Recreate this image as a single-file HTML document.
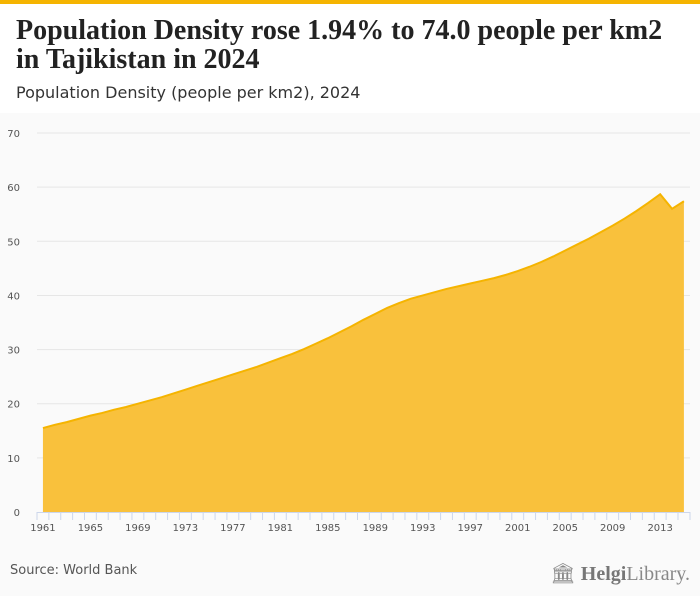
<!DOCTYPE html>
<html><head><meta charset="utf-8"><style>
body{margin:0;width:700px;height:596px;background:#fafafa;font-family:"Liberation Sans",sans-serif;position:relative;overflow:hidden}
#topbar{position:absolute;left:0;top:0;width:700px;height:4px;background:#f5b400}
#header{position:absolute;left:0;top:4px;width:700px;height:109px;background:#fff}
h1{position:absolute;left:16px;top:12px;margin:0;font-family:"Liberation Serif",serif;font-size:28px;line-height:29px;font-weight:bold;color:#222;white-space:nowrap}
#sub{position:absolute;left:16px;top:79px;font-family:"DejaVu Sans",sans-serif;font-size:16px;color:#333}
#src{position:absolute;left:10px;top:563px;font-family:"DejaVu Sans",sans-serif;font-size:13px;color:#555}
#logo{position:absolute;right:10px;top:561px;font-family:"Liberation Serif",serif;font-size:20px;color:#888}
svg{position:absolute;left:0;top:0}
</style></head><body>
<div id="topbar"></div>
<div id="header">
<h1>Population Density rose 1.94% to 74.0 people per km2<br>in Tajikistan in 2024</h1>
<div id="sub">Population Density (people per km2), 2024</div>
</div>
<svg id="chart" width="700" height="596"></svg>
<div id="src">Source: World Bank</div>
<div id="logo">&#x1F3DB; <b style="color:#777">Helgi</b>Library.</div>
<script>
const years=[1961,1962,1963,1964,1965,1966,1967,1968,1969,1970,1971,1972,1973,1974,1975,1976,1977,1978,1979,1980,1981,1982,1983,1984,1985,1986,1987,1988,1989,1990,1991,1992,1993,1994,1995,1996,1997,1998,1999,2000,2001,2002,2003,2004,2005,2006,2007,2008,2009,2010,2011,2012,2013,2014,2015];
const density=[15.5,16.1,16.6,17.2,17.8,18.3,18.9,19.4,20.0,20.6,21.2,21.9,22.6,23.3,24.0,24.7,25.4,26.1,26.8,27.6,28.4,29.2,30.1,31.1,32.1,33.2,34.3,35.5,36.6,37.7,38.6,39.4,40.0,40.6,41.2,41.7,42.2,42.7,43.2,43.8,44.5,45.3,46.2,47.2,48.3,49.4,50.5,51.7,52.9,54.2,55.6,57.1,58.7,56.0,57.4];
const yTicks=[0,10,20,30,40,50,60,70];
const svg=document.getElementById('chart');const NS='http://www.w3.org/2000/svg';
const x0=37,bw=11.87,yb=512,ys=5.414;
const X=i=>x0+bw*(i+0.5), Y=v=>yb-v*ys;
function mk(t,a){const e=document.createElementNS(NS,t);for(const k in a)e.setAttribute(k,a[k]);svg.appendChild(e);return e;}
yTicks.forEach(t=>{
 if(t>0){const g=mk('line',{x1:37,x2:690,y1:Y(t),y2:Y(t),stroke:'#e6e6e6'});
 
 }
 const l=mk('text',{x:20,y:Y(t)+4,'text-anchor':'end','font-size':'10','fill':'#555','font-family':'DejaVu Sans,sans-serif'});l.textContent=t;
 
 
});
let d='M'+X(0)+','+yb;density.forEach((v,i)=>d+='L'+X(i)+','+Y(v));d+='L'+X(density.length-1)+','+yb+'Z';
const area=mk('path',{d:d,fill:'#f9c13c'});


let ld='';density.forEach((v,i)=>ld+=(i?'L':'M')+X(i)+','+Y(v));
const line=mk('path',{d:ld,fill:'none',stroke:'#f5b400','stroke-width':'2'});


const ax=mk('line',{x1:37,x2:690,y1:yb+0.5,y2:yb+0.5,stroke:'#ccd6eb'});


years.forEach((yr,i)=>{
 const t=mk('line',{x1:x0+bw*i,x2:x0+bw*i,y1:yb,y2:yb+8,stroke:'#ccd6eb'});
 
 
 if((yr-1961)%4===0){const l=mk('text',{x:X(i),y:yb+19,'text-anchor':'middle','font-size':'10','fill':'#555','font-family':'DejaVu Sans,sans-serif'});l.textContent=yr;
 
 }
});
const last=mk('line',{x1:690,x2:690,y1:yb,y2:yb+8,stroke:'#ccd6eb'});


</script>
</body></html>
